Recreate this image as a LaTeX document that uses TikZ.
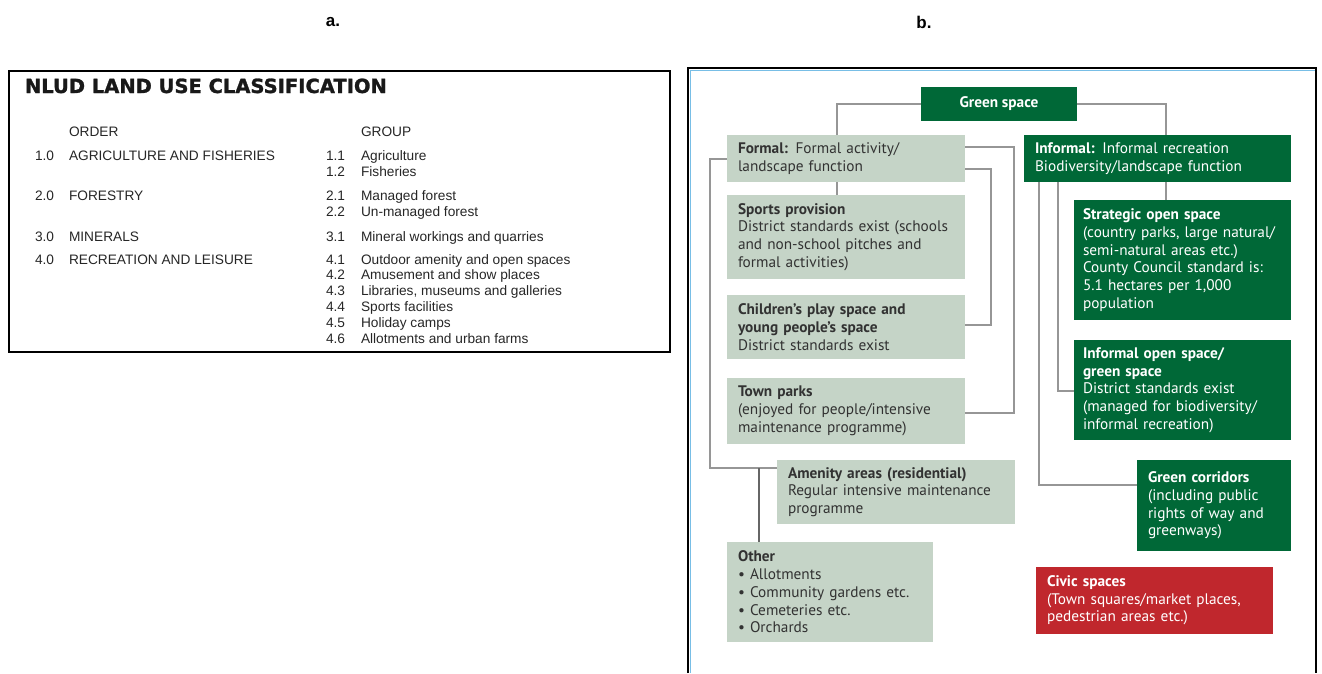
\documentclass[tikz,border=0pt]{standalone}
\usepackage{fontspec}
\usepackage{graphicx}
\setmainfont{PT Sans}
\newfontfamily\arialfont{Liberation Sans}
\newfontfamily\titlefont[BoldFeatures={FakeBold=1.3}]{DejaVu Sans}
\usetikzlibrary{calc}

\definecolor{boxgrey}{RGB}{197,212,199}
\definecolor{dkgreen}{RGB}{0,104,55}
\definecolor{civred}{RGB}{192,39,45}
\definecolor{linegrey}{RGB}{150,150,150}
\definecolor{boxtext}{RGB}{50,50,50}
\definecolor{frameblue}{RGB}{120,190,230}

\begin{document}
\begin{tikzpicture}[x=1pt,y=-1pt,
  every node/.style={outer sep=0pt},
  lbox/.style={fill=boxgrey, text=boxtext, anchor=north west, inner xsep=11pt,
    inner ysep=0pt, align=left, font=\fontsize{15.3}{17.7}\selectfont},
  dbox/.style={lbox, fill=dkgreen, text=white},
  rbox/.style={lbox, fill=civred, text=white},
  link/.style={draw=linegrey, line width=1.6pt},
  atext/.style={anchor=base west, inner sep=0pt, text=black!85,
    font=\arialfont\fontsize{13.7}{16}\selectfont},
  plabel/.style={inner sep=0pt, font=\arialfont\bfseries\fontsize{17}{20}\selectfont}]
\useasboundingbox (0,0) rectangle (1322,673);

% panel labels
\node[plabel] (la) at (333,22) {a.};
\node[plabel] (lb) at (924,22) {b.};

% ---------- panel a: NLUD classification table ----------
\draw[line width=2.5pt] (9,71) rectangle (670,352);
\node[anchor=base west, inner sep=0pt, text=black!90,
  font=\titlefont\bfseries\fontsize{19.5}{22}\selectfont] (atitle) at (25,93) {NLUD LAND USE CLASSIFICATION};

\node[atext] (hord) at (69,136) {ORDER};
\node[atext] (hgrp) at (361,136) {GROUP};

\node[atext] (o1n) at (35,160) {1.0};
\node[atext] (o1) at (69,160) {AGRICULTURE AND FISHERIES};
\node[atext] (o2n) at (35,200) {2.0};
\node[atext] (o2) at (69,200) {FORESTRY};
\node[atext] (o3n) at (35,241) {3.0};
\node[atext] (o3) at (69,241) {MINERALS};
\node[atext] (o4n) at (35,264) {4.0};
\node[atext] (o4) at (69,264) {RECREATION AND LEISURE};

\node[atext] (g11n) at (326,160) {1.1};  \node[atext] (g11) at (361,160) {Agriculture};
\node[atext] (g12n) at (326,176) {1.2};  \node[atext] (g12) at (361,176) {Fisheries};
\node[atext] (g21n) at (326,200) {2.1};  \node[atext] (g21) at (361,200) {Managed forest};
\node[atext] (g22n) at (326,216) {2.2};  \node[atext] (g22) at (361,216) {Un-managed forest};
\node[atext] (g31n) at (326,241) {3.1};  \node[atext] (g31) at (361,241) {Mineral workings and quarries};
\node[atext] (g41n) at (326,264) {4.1};  \node[atext] (g41) at (361,264) {Outdoor amenity and open spaces};
\node[atext] (g42n) at (326,279) {4.2};  \node[atext] (g42) at (361,279) {Amusement and show places};
\node[atext] (g43n) at (326,295) {4.3};  \node[atext] (g43) at (361,295) {Libraries, museums and galleries};
\node[atext] (g44n) at (326,311) {4.4};  \node[atext] (g44) at (361,311) {Sports facilities};
\node[atext] (g45n) at (326,327) {4.5};  \node[atext] (g45) at (361,327) {Holiday camps};
\node[atext] (g46n) at (326,343) {4.6};  \node[atext] (g46) at (361,343) {Allotments and urban farms};

% ---------- panel b: green space typology ----------
\draw[line width=2pt] (688,673) -- (688,68) -- (1316,68) -- (1316,673);
\draw[frameblue, line width=0.8pt] (690,673) -- (690,70) -- (1315,70);

\node[fill=dkgreen, text=white, minimum width=156pt, minimum height=34pt, inner sep=0pt,
  font=\bfseries\fontsize{15.3}{17.7}\selectfont] (gs) at (999,104) {Green space};

% formal branch
\node[lbox, text width=216pt, minimum height=47pt] (formal) at (727,135)
  {\textbf{Formal:} Formal activity/\\landscape function};
\node[lbox, text width=216pt, minimum height=84pt] (sports) at (727,195)
  {\textbf{Sports provision}\\District standards exist (schools\\and non-school pitches and\\formal activities)};
\node[lbox, text width=216pt, minimum height=64pt] (children) at (727,295)
  {\textbf{Children’s play space and}\\\textbf{young people’s space}\\District standards exist};
\node[lbox, text width=216pt, minimum height=66pt] (town) at (727,378)
  {\textbf{Town parks}\\(enjoyed for people/intensive\\maintenance programme)};
\node[lbox, text width=216pt, minimum height=64pt] (amenity) at (777,460)
  {\textbf{Amenity areas (residential)}\\Regular intensive maintenance\\programme};
\node[lbox, text width=184pt, minimum height=100pt] (other) at (727,542)
  {\textbf{Other}\\• Allotments\\• Community gardens etc.\\• Cemeteries etc.\\• Orchards};

% informal branch
\node[dbox, text width=245pt, minimum height=47pt] (informal) at (1024,135)
  {\textbf{Informal:} Informal recreation\\Biodiversity/landscape function};
\node[dbox, inner xsep=9pt, text width=199pt, minimum height=120pt] (strategic) at (1074,200)
  {\textbf{Strategic open space}\\(country parks, large natural/\\semi-natural areas etc.)\\County Council standard is:\\5.1 hectares per 1,000\\population};
\node[dbox, inner xsep=9pt, text width=199pt, minimum height=100pt] (infopen) at (1074,340)
  {\textbf{Informal open space/}\\\textbf{green space}\\District standards exist\\(managed for biodiversity/\\informal recreation)};
\node[dbox, text width=132pt, minimum height=91pt] (corridors) at (1137,460)
  {\textbf{Green corridors}\\(including public\\rights of way and\\greenways)};
\node[rbox, text width=215pt, minimum height=67pt] (civic) at (1036,567)
  {\textbf{Civic spaces}\\(Town squares/market places,\\pedestrian areas etc.)};

% connectors
\draw[link] (gs.west) -| ([xshift=110pt]formal.north west);
\draw[link] ([xshift=110pt]formal.south west) -- ([xshift=110pt]sports.north west);
\draw[link] (gs.east) -| ([xshift=142pt]informal.north west);
\draw[link] ([xshift=142pt]informal.south west) -- ([xshift=92pt]strategic.north west);
\draw[link] ([yshift=-12pt]formal.north east) -- ++(49,0) |- ([yshift=-35pt]town.north east);
\draw[link] ([yshift=-34pt]formal.north east) -- ++(26,0) |- ([yshift=-30pt]children.north east);
\coordinate (tj) at ([yshift=-8pt]amenity.north west);
\draw[link] ([yshift=-24pt]formal.north west) -- ++(-17,0) |- (tj);
\coordinate (oj) at ([xshift=32pt]other.north west);
\draw[link, draw=black!60] (oj) -- (oj |- tj);
\draw[link] ([xshift=34pt]informal.south west) |- ([yshift=-51pt]infopen.north west);
\draw[link] ([xshift=15pt]informal.south west) |- ([yshift=-25pt]corridors.north west);
\end{tikzpicture}
\end{document}
